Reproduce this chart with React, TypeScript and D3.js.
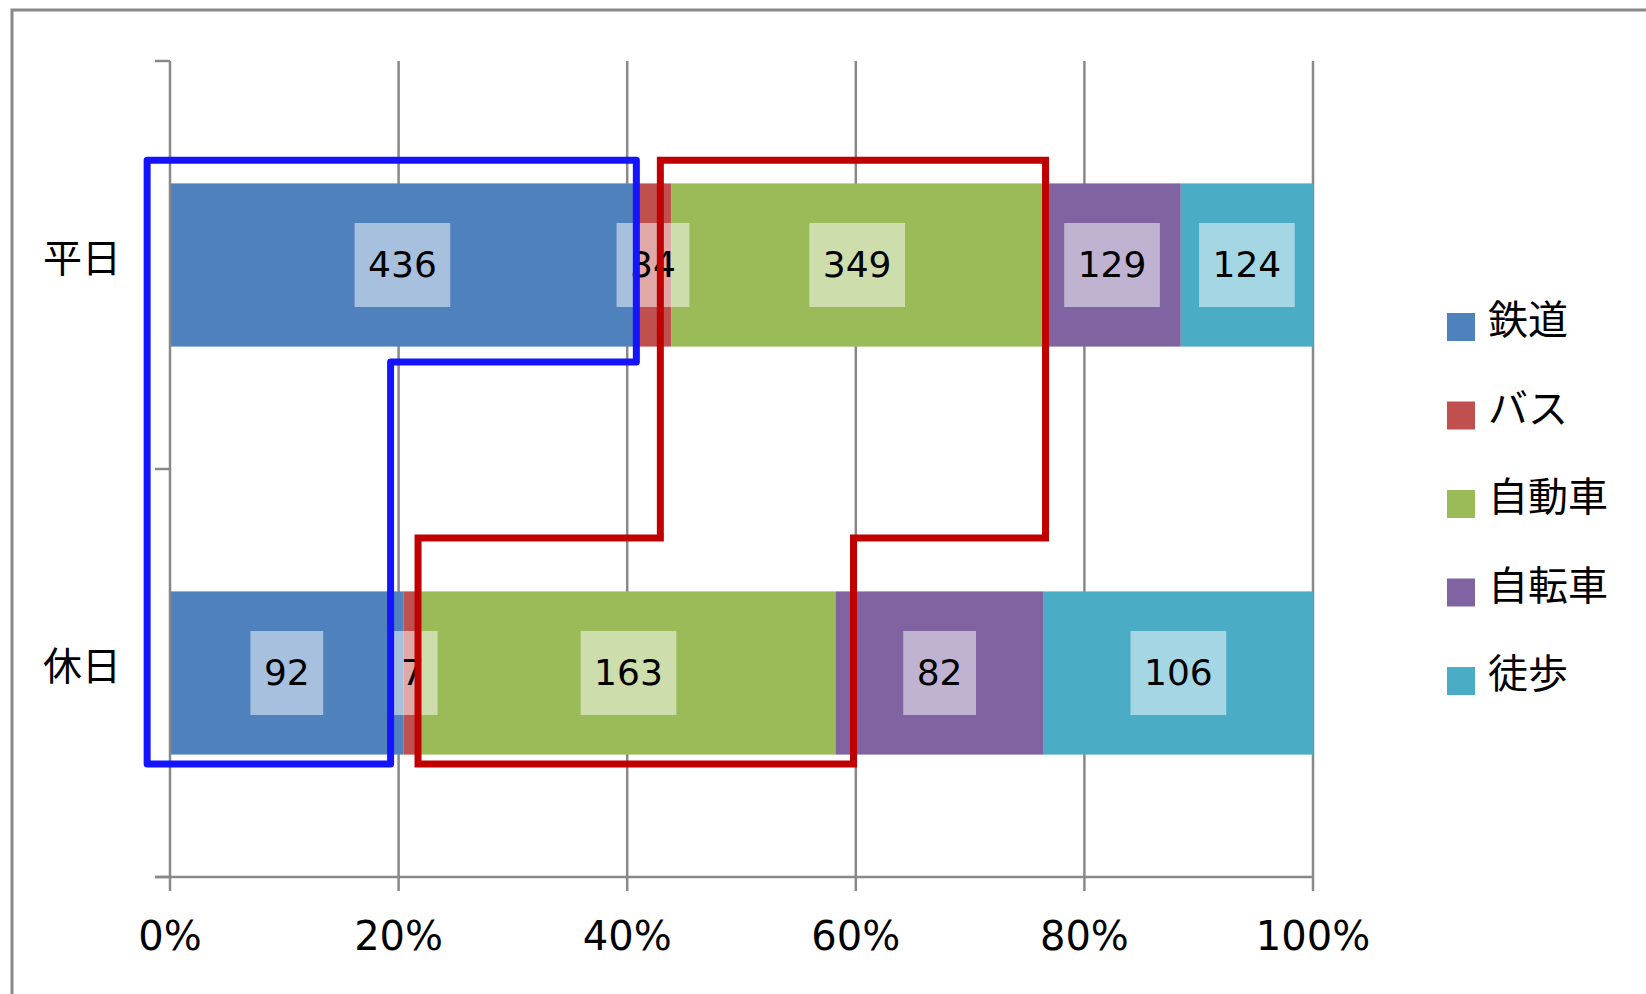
import React from "react";
import * as d3 from "d3";

const categories = ["平日", "休日"];
const modes = ["鉄道", "バス", "自動車", "自転車", "徒歩"];
const modeColors = ["#4F81BD", "#C0504D", "#9BBB59", "#8064A2", "#4BACC6"];
const weekdayValues = [436, 34, 349, 129, 124];
const holidayValues = [92, 7, 163, 82, 106];
const xTicks = [0, 20, 40, 60, 80, 100];

// hand drawn outlines: [percent, position in category units (0 = top, 2 = bottom)]
const blueOutline: [number, number][] = [
  [-2, 0.243], [40.8, 0.243], [40.8, 0.738], [19.3, 0.738], [19.3, 1.723], [-2, 1.723],
];
const redOutline: [number, number][] = [
  [42.9, 0.243], [76.6, 0.243], [76.6, 1.169], [59.8, 1.169],
  [59.8, 1.723], [21.7, 1.723], [21.7, 1.169], [42.9, 1.169],
];

const W = 1646;
const H = 994;
const FONT = "'DejaVu Sans', 'Noto Sans CJK JP', sans-serif";
const JP = "'Noto Sans CJK JP', 'DejaVu Sans', sans-serif";

export default function App() {
  const left = 170, right = 1313, top = 61, bottom = 877;

  const x = d3.scaleLinear().domain([0, 100]).range([left, right]);
  const y = d3
    .scaleBand<string>()
    .domain(categories)
    .range([top, bottom])
    .paddingInner(0.6)
    .paddingOuter(0.3);
  const yUnit = d3.scaleLinear().domain([0, 2]).range([top, bottom]);
  const color = d3.scaleOrdinal<string, string>().domain(modes).range(modeColors);

  const rows = categories.map((c, i) => {
    const vals = i === 0 ? weekdayValues : holidayValues;
    const r: any = { cat: c };
    modes.forEach((m, j) => (r[m] = vals[j]));
    return r;
  });

  const series = d3.stack<any>().keys(modes).offset(d3.stackOffsetExpand)(rows);

  const line = d3
    .line<[number, number]>()
    .x((d) => x(d[0]))
    .y((d) => yUnit(d[1]))
    .curve(d3.curveLinearClosed);

  const legendY = d3.scaleLinear().domain([0, 4]).range([327, 681]);
  const bw = y.bandwidth();
  const labelFont = 36;

  return (
    <div style={{ position: "absolute", left: 0, top: 0 }}>
      <svg width={W} height={H} style={{ display: "block", background: "#fff" }}>
        {/* chart frame */}
        <rect x={12} y={10} width={W + 20} height={H + 20} fill="#fff" stroke="#898989" strokeWidth={3} />

        {/* vertical gridlines */}
        {xTicks.slice(1).map((t) => (
          <line key={t} x1={x(t)} x2={x(t)} y1={top} y2={bottom} stroke="#898989" strokeWidth={2.5} />
        ))}

        {/* bars */}
        {series.map((s) => (
          <g key={s.key} fill={color(s.key)}>
            {s.map((d, i) => (
              <rect
                key={i}
                x={x(d[0] * 100)}
                width={x(d[1] * 100) - x(d[0] * 100)}
                y={y(categories[i])!}
                height={bw}
              />
            ))}
          </g>
        ))}

        {/* data labels */}
        {series.map((s) =>
          s.map((d, i) => {
            const v = (d.data as any)[s.key] as number;
            const txt = String(v);
            const cx = x(((d[0] + d[1]) / 2) * 100);
            const cy = y(categories[i])! + bw / 2;
            const w = txt.length * 0.636 * labelFont + 27;
            return (
              <g key={s.key + i}>
                <rect x={cx - w / 2} y={cy - 42} width={w} height={84} fill="#fff" fillOpacity={0.5} />
                <text
                  x={cx}
                  y={cy + 12}
                  textAnchor="middle"
                  fontFamily={FONT}
                  fontSize={labelFont}
                  fill="#000"
                >
                  {txt}
                </text>
              </g>
            );
          })
        )}

        {/* axes */}
        <line x1={left} x2={left} y1={top} y2={bottom} stroke="#898989" strokeWidth={2.5} />
        {[0, 1, 2].map((k) => (
          <line key={k} x1={left - 15} x2={left} y1={yUnit(k)} y2={yUnit(k)} stroke="#898989" strokeWidth={2.5} />
        ))}
        <line x1={left - 15} x2={right} y1={bottom} y2={bottom} stroke="#898989" strokeWidth={2.5} />
        {xTicks.map((t) => (
          <g key={t}>
            <line x1={x(t)} x2={x(t)} y1={bottom} y2={bottom + 14} stroke="#898989" strokeWidth={2.5} />
            <text x={x(t)} y={950} textAnchor="middle" fontFamily={FONT} fontSize={40} fill="#000">
              {t + "%"}
            </text>
          </g>
        ))}
        {categories.map((c) => (
          <text
            key={c}
            x={121}
            y={y(c)! + bw / 2 - 10}
            textAnchor="end"
            dominantBaseline="central"
            fontFamily={JP}
            fontSize={39}
            fill="#000"
          >
            {c}
          </text>
        ))}

        {/* legend */}
        {modes.map((m, i) => (
          <g key={m}>
            <rect x={1447} y={legendY(i) - 14} width={28} height={28} fill={color(m)} />
            <text
              x={1488}
              y={legendY(i) - 10}
              dominantBaseline="central"
              fontFamily={JP}
              fontSize={40}
              fill="#000"
            >
              {m}
            </text>
          </g>
        ))}

        {/* annotation outlines */}
        <path d={line(blueOutline)!} fill="none" stroke="#1414FF" strokeWidth={7} strokeLinejoin="round" />
        <path d={line(redOutline)!} fill="none" stroke="#C00000" strokeWidth={7} strokeLinejoin="miter" />
      </svg>
    </div>
  );
}
